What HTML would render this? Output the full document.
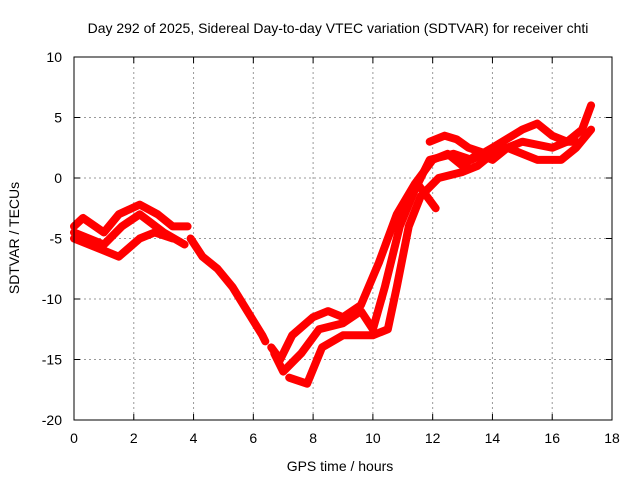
<!DOCTYPE html>
<html><head><meta charset="utf-8"><style>
body{margin:0;background:#fff}
svg{display:block;font-family:"Liberation Sans",sans-serif}
</style></head><body>
<svg width="640" height="480">
<text x="338" y="33" font-size="14" text-anchor="middle">Day 292 of 2025, Sidereal Day-to-day VTEC variation (SDTVAR) for receiver chti</text>
<g id="grid"></g>
<g id="ticks"></g>
<g id="series"></g>
<rect x="74" y="57" width="538" height="363" fill="none" stroke="#000"/>
<text x="340" y="471" font-size="14" text-anchor="middle">GPS time / hours</text>
<text x="19" y="238" font-size="14" text-anchor="middle" transform="rotate(-90 19 238)">SDTVAR / TECUs</text>
</svg>
<script>
const xTicks=[0,2,4,6,8,10,12,14,16,18];
const yTicks=[10,5,0,-5,-10,-15,-20];
const s1x=[0,0.3,1,1.5,2.2,2.8,3.3,3.8];
const s1y=[-4,-3.3,-4.5,-3,-2.2,-3,-4,-4];
const s2x=[0,1,1.6,2.2,3,3.7];
const s2y=[-4.5,-5.5,-4,-3,-4.5,-5.5];
const s3x=[0,1,1.5,2.2,2.7,3.3];
const s3y=[-5,-6,-6.5,-5,-4.5,-5];
const s4x=[3.9,4.3,4.8,5.3,5.8,6.3,6.4];
const s4y=[-5,-6.5,-7.5,-9,-11,-13,-13.5];
const s5x=[6.6,6.9,7.3,8,8.5,9,9.6,10.2,10.8,11.4,12,12.5,13,13.5,14,14.5,15,16,16.5,17,17.3];
const s5y=[-14,-15,-13,-11.5,-11,-11.5,-10.5,-7,-3,-0.5,1.5,2,1,2,1.5,2.5,3,2.5,3,4,6];
const s6x=[6.7,7,7.6,8.2,9,9.6,10,10.4,10.9,11.4,11.9,12.7,13.3,14,15,15.5,16,16.5,16.8];
const s6y=[-14.5,-16,-14.5,-12.5,-12,-11,-12.5,-9,-4,-1,1.5,2,1.5,2.5,4,4.5,3.5,3,3];
const s7x=[7.2,7.8,8.3,9,10,10.5,10.8,11.2,11.6,12.2,13,13.5,14,14.5,15,15.5,16.3,16.8,17.3];
const s7y=[-16.5,-17,-14,-13,-13,-12.5,-9,-4,-1.5,0,0.5,1,2,2.5,2,1.5,1.5,2.5,4];
const s8x=[11.9,12.4,12.8,13.2,13.8];
const s8y=[3,3.5,3.2,2.5,2];
const s9x=[11.5,11.8,12.1];
const s9y=[-0.5,-1.5,-2.5];
const allSeries=[[s1x,s1y],[s2x,s2y],[s3x,s3y],[s4x,s4y],[s5x,s5y],[s6x,s6y],[s7x,s7y],[s8x,s8y],[s9x,s9y]];
const X=h=>74+h*538/18, Y=v=>57+(10-v)*363/30;
const NS="http://www.w3.org/2000/svg";
const grid=document.getElementById('grid'), ticks=document.getElementById('ticks'), ser=document.getElementById('series');
function mk(tag,attrs,parent){const e=document.createElementNS(NS,tag);for(const k in attrs)e.setAttribute(k,attrs[k]);parent.appendChild(e);return e;}
xTicks.forEach(t=>{
 if(t>0&&t<18){const g=mk('line',{x1:X(t),x2:X(t),y1:57,y2:420,stroke:'#999','stroke-dasharray':'2,3'},grid);
 
 }
 mk('line',{x1:X(t),x2:X(t),y1:420,y2:414,stroke:'#000'},ticks);
 mk('line',{x1:X(t),x2:X(t),y1:57,y2:63,stroke:'#000'},ticks);
 const l=mk('text',{x:X(t),y:443,'font-size':14,'text-anchor':'middle'},ticks);l.textContent=t;
 
 
});
yTicks.forEach(t=>{
 if(t<10&&t>-20){const g=mk('line',{x1:74,x2:612,y1:Y(t),y2:Y(t),stroke:'#999','stroke-dasharray':'2,3'},grid);
 
 }
 mk('line',{x1:74,x2:80,y1:Y(t),y2:Y(t),stroke:'#000'},ticks);
 mk('line',{x1:606,x2:612,y1:Y(t),y2:Y(t),stroke:'#000'},ticks);
 const l=mk('text',{x:62,y:Y(t)+5,'font-size':14,'text-anchor':'end'},ticks);l.textContent=t;
 
 
});
allSeries.forEach((s,i)=>{
 const pts=s[0].map((h,j)=>X(h)+','+Y(s[1][j])).join(' ');
 const p=mk('polyline',{points:pts,fill:'none',stroke:'#f00','stroke-width':8,'stroke-linejoin':'round','stroke-linecap':'round'},ser);
 
 
});
</script>
</body></html>
